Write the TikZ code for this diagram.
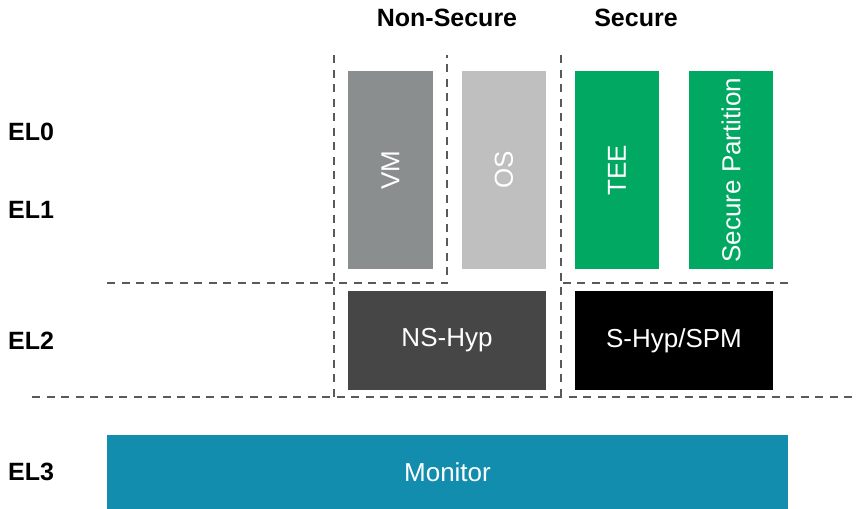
\documentclass[tikz,border=0pt]{standalone}
\usepackage{fontspec}
\setmainfont{Liberation Sans}
\definecolor{vmgray}{HTML}{8B8E8E}
\definecolor{osgray}{HTML}{BFBFBF}
\definecolor{secgreen}{HTML}{00A861}
\definecolor{nshyp}{HTML}{464646}
\definecolor{monblue}{HTML}{138DAD}
\definecolor{divider}{HTML}{5A5A5A}
\begin{document}
\begin{tikzpicture}[x=1pt,y=-1pt,
  box/.style={draw=none, inner sep=0pt, text=white,
    font=\fontsize{26}{30}\selectfont},
  tallbox/.style={box, rotate=90, minimum width=198pt, minimum height=84pt},
  widebox/.style={box, minimum width=198pt, minimum height=99pt},
  level/.style={anchor=west, inner sep=0pt, font=\bfseries\fontsize{25}{30}\selectfont},
  world/.style={inner sep=0pt, font=\bfseries\fontsize{25}{30}\selectfont},
  divline/.style={draw=divider, line width=1.3pt, dash pattern=on 8pt off 6.5pt}]
\useasboundingbox (0,0) rectangle (860,509);

% exception-level boundaries
\draw[divline] (107,283) -- (447,283) -- (447,55);
\draw[divline] (788,283) -- (561,283);
\draw[divline] (561,55) -- (561,397);
\draw[divline] (334,55) -- (334,397);
\draw[divline] (32,397) -- (853,397);

% column headers
\node[world] (ns) at (447,18) {Non-Secure};
\node[world] (sec) at (636,18) {Secure};

% level labels
\node[level] (el0) at (8,132) {EL0};
\node[level] (el1) at (8,210) {EL1};
\node[level] (el2) at (8,341) {EL2};
\node[level] (el3) at (8,472) {EL3};

% EL0/EL1 software
\node[tallbox, fill=vmgray, minimum height=85pt] (vm) at (390.5,170) {VM};
\node[tallbox, fill=osgray] (os) at (504,170) {OS};
\node[tallbox, fill=secgreen] (tee) at (617,170) {TEE};
\node[tallbox, fill=secgreen] (sp) at (731,170) {Secure Partition};

% EL2 hypervisors
\node[widebox, fill=nshyp] (nsh) at (447,340.5) {NS-Hyp};
\node[widebox, fill=black] (sh) at (674,340.5) {S-Hyp/SPM};

% EL3 monitor
\node[box, fill=monblue, minimum width=681pt, minimum height=74pt] (mon) at (447.5,472) {Monitor};
\end{tikzpicture}
\end{document}
